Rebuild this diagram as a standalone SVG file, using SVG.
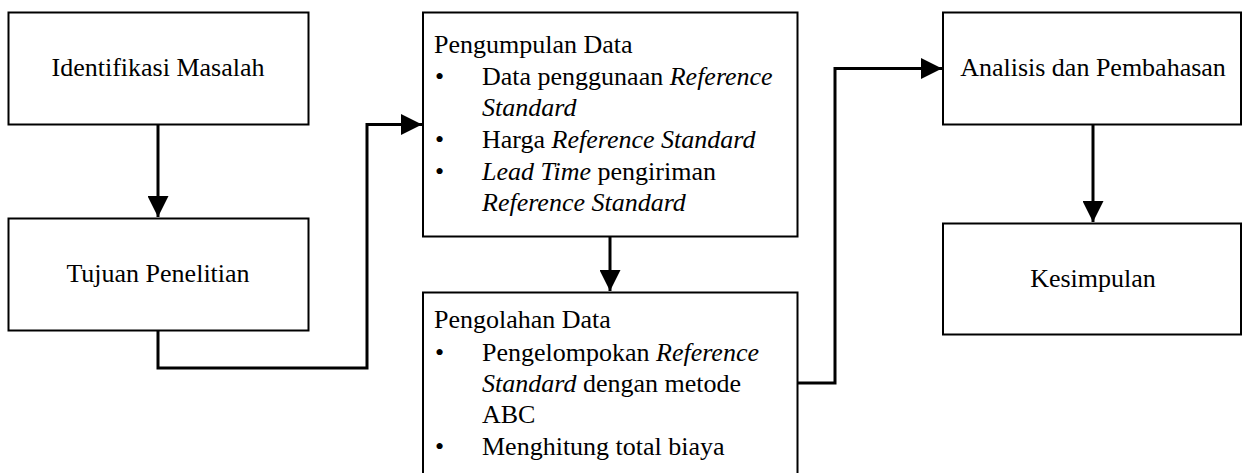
<svg xmlns="http://www.w3.org/2000/svg" width="1242" height="473" viewBox="0 0 1242 473">
<style>
.box{fill:#fff;stroke:#000;stroke-width:2}
.t{font-family:'Liberation Serif','Times New Roman',serif;font-size:26px;fill:#000}
.c{text-anchor:middle}
.i{font-style:italic}
.ln{fill:none;stroke:#000;stroke-width:3;stroke-linejoin:miter}
</style>
<defs>
<marker id="ah" markerUnits="userSpaceOnUse" markerWidth="21" markerHeight="21" viewBox="0 0 21 21" refX="21" refY="10.5" orient="auto">
<path d="M0,0 L21,10.5 L0,21 Z" fill="#000"/>
</marker>
</defs>
<g id="n1"><rect class="box" x="8.5" y="12.5" width="300" height="112"/><text class="t c" x="158" y="76">Identifikasi Masalah</text></g>
<g id="n2"><rect class="box" x="8.5" y="218.5" width="300" height="112"/><text class="t c" x="158" y="282">Tujuan Penelitian</text></g>
<g id="n3"><rect class="box" x="423" y="12.5" width="374.5" height="224"/>
<text class="t" x="434" y="53">Pengumpulan Data</text>
<text class="t" x="435" y="85">•</text><text class="t" x="482" y="85">Data penggunaan <tspan class="i">Reference</tspan></text>
<text class="t i" x="482" y="116">Standard</text>
<text class="t" x="435" y="148">•</text><text class="t" x="482" y="148">Harga <tspan class="i">Reference Standard</tspan></text>
<text class="t" x="435" y="180">•</text><text class="t" x="482" y="180"><tspan class="i">Lead Time</tspan> pengiriman</text>
<text class="t i" x="482" y="211">Reference Standard</text>
</g>
<g id="n4"><rect class="box" x="423" y="292.5" width="374.5" height="184"/>
<text class="t" x="434" y="328">Pengolahan Data</text>
<text class="t" x="435" y="361">•</text><text class="t" x="482" y="361">Pengelompokan <tspan class="i">Reference</tspan></text>
<text class="t" x="482" y="392"><tspan class="i">Standard</tspan> dengan metode</text>
<text class="t" x="482" y="423">ABC</text>
<text class="t" x="435" y="455">•</text><text class="t" x="482" y="455">Menghitung total biaya</text>
</g>
<g id="n5"><rect class="box" x="943" y="12.5" width="298" height="112"/><text class="t c" x="1093" y="76">Analisis dan Pembahasan</text></g>
<g id="n6"><rect class="box" x="943" y="223.5" width="298" height="111"/><text class="t c" x="1093" y="287">Kesimpulan</text></g>
<g id="connectors">
<path class="ln" d="M158,125 V217" marker-end="url(#ah)"/>
<path class="ln" d="M158,331 V368 H367 V124.5 H422" marker-end="url(#ah)"/>
<path class="ln" d="M610,237 V291" marker-end="url(#ah)"/>
<path class="ln" d="M798,383 H835 V68.5 H942" marker-end="url(#ah)"/>
<path class="ln" d="M1093,125 V222" marker-end="url(#ah)"/>
</g>
</svg>
